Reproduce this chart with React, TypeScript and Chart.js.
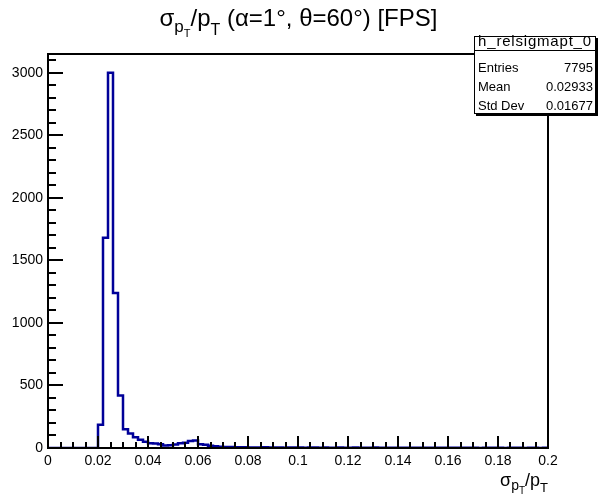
import React, { useEffect, useRef } from "react";
import { Chart, registerables } from "chart.js";
Chart.register(...registerables);

const xMin = 0;
const xMax = 0.2;
const binWidth = 0.002;
const xMinorStep = 0.005;
const yMax = 3150;
const yMinorStep = 100;

const xTickValues = [0, 0.02, 0.04, 0.06, 0.08, 0.1, 0.12, 0.14, 0.16, 0.18, 0.2];
const xTickLabels = ["0", "0.02", "0.04", "0.06", "0.08", "0.1", "0.12", "0.14", "0.16", "0.18", "0.2"];
const yTickValues = [0, 500, 1000, 1500, 2000, 2500, 3000];
const yTickLabels = ["0", "500", "1000", "1500", "2000", "2500", "3000"];

// Histogram bin contents (100 bins of width 0.002 from 0 to 0.2)
const counts = [
  0, 0, 0, 0, 0, 0, 0, 0, 0, 0,
  185, 1680, 3000, 1240, 420,
  150, 115, 85, 65, 50, 38, 35, 30, 20, 22,
  28, 38, 42, 55, 60, 30, 25, 18, 14, 10,
  8, 7, 6, 5, 5,
  4, 4, 3, 5, 3, 4, 3, 2, 4, 3,
  3, 2, 3, 4, 2, 3, 2, 2, 3, 2,
  2, 3, 1, 2, 2, 3, 1, 2, 2, 1,
  2, 1, 2, 2, 1, 1, 2, 1, 1, 2,
  1, 1, 2, 1, 1, 1, 0, 1, 1, 2,
  1, 0, 1, 1, 1, 0, 1, 1, 0, 1,
];

const histName = "h_relsigmapt_0";
const statsLabels = ["Entries", "Mean", "Std Dev"];
const statsValues = ["7795", "0.02933", "0.01677"];

const FONT = "'Liberation Sans', Arial, Helvetica, sans-serif";

type Seg = { t: string; s: number; dy: number };

function drawSegs(ctx: CanvasRenderingContext2D, segs: Seg[], x: number, y: number, align: "center" | "right") {
  let total = 0;
  const widths = segs.map((g) => {
    ctx.font = `${g.s}px ${FONT}`;
    const w = ctx.measureText(g.t).width;
    total += w;
    return w;
  });
  let cx = align === "center" ? x - total / 2 : x - total;
  ctx.textAlign = "left";
  ctx.textBaseline = "alphabetic";
  segs.forEach((g, i) => {
    ctx.font = `${g.s}px ${FONT}`;
    ctx.fillText(g.t, cx, y + g.dy);
    cx += widths[i];
  });
}

const titleSegs: Seg[] = [
  { t: "σ", s: 24, dy: 0 },
  { t: "p", s: 17, dy: 6 },
  { t: "T", s: 11, dy: 11 },
  { t: "/p", s: 24, dy: 0 },
  { t: "T", s: 16, dy: 9 },
  { t: " (α=1°, θ=60°) [FPS]", s: 24, dy: 0 },
];

const xTitleSegs: Seg[] = [
  { t: "σ", s: 18, dy: 0 },
  { t: "p", s: 14, dy: 4 },
  { t: "T", s: 10, dy: 8 },
  { t: "/p", s: 18, dy: 0 },
  { t: "T", s: 13, dy: 6 },
];

const decor = {
  id: "rootDecor",
  afterDatasetsDraw(chart: any) {
    const { ctx, chartArea: a, scales } = chart;
    const x = scales.x;
    const y = scales.y;
    ctx.save();
    ctx.strokeStyle = "#000";
    ctx.lineWidth = 2;
    ctx.beginPath();
    const nx = Math.round((xMax - xMin) / xMinorStep);
    for (let k = 0; k <= nx; k++) {
      const px = Math.round(x.getPixelForValue(xMin + k * xMinorStep));
      const len = k % 4 === 0 ? 12 : 6;
      ctx.moveTo(px, a.bottom);
      ctx.lineTo(px, a.bottom - len);
    }
    const ny = Math.floor(yMax / yMinorStep);
    for (let k = 0; k <= ny; k++) {
      const py = Math.round(y.getPixelForValue(k * yMinorStep));
      const len = k % 5 === 0 ? 15 : 8;
      ctx.moveTo(a.left, py);
      ctx.lineTo(a.left + len, py);
    }
    ctx.stroke();
    ctx.strokeRect(a.left, a.top, a.right - a.left, a.bottom - a.top);

    // stats box
    const bx = 474, by = 36, bw = 122, bh = 78;
    ctx.fillStyle = "#000";
    ctx.fillRect(bx + 2, by + 2, bw, bh);
    ctx.fillStyle = "#fff";
    ctx.fillRect(bx, by, bw, bh);
    ctx.lineWidth = 1;
    ctx.strokeRect(bx + 0.5, by + 0.5, bw - 1, bh - 1);
    ctx.beginPath();
    ctx.moveTo(bx, by + 14.5);
    ctx.lineTo(bx + bw, by + 14.5);
    ctx.stroke();
    ctx.fillStyle = "#000";
    ctx.font = `15px ${FONT}`;
    (ctx as any).letterSpacing = "0.8px";
    ctx.textAlign = "center";
    ctx.textBaseline = "alphabetic";
    ctx.fillText(histName, bx + bw / 2, by + 10);
    (ctx as any).letterSpacing = "0px";
    ctx.font = `13px ${FONT}`;
    statsLabels.forEach((l, i) => {
      const yy = by + 36 + i * 19;
      ctx.textAlign = "left";
      ctx.fillText(l, bx + 4, yy);
      ctx.textAlign = "right";
      ctx.fillText(statsValues[i], bx + bw - 3, yy);
    });

    // titles
    drawSegs(ctx, titleSegs, 298.5, 26, "center");
    drawSegs(ctx, xTitleSegs, a.right, 486, "right");
    ctx.restore();
  },
};

export default function App() {
  const ref = useRef<HTMLCanvasElement>(null);
  useEffect(() => {
    document.body.style.margin = "0";
    const points = counts.map((c, i) => ({ x: xMin + i * binWidth, y: c }));
    points.push({ x: xMax, y: counts[counts.length - 1] });
    const chart = new Chart(ref.current!, {
      type: "line",
      data: {
        datasets: [
          {
            data: points,
            stepped: "before",
            borderColor: "#000099",
            borderWidth: 2.5,
            pointRadius: 0,
            fill: false,
            tension: 0,
          },
        ],
      },
      options: {
        animation: false,
        responsive: false,
        devicePixelRatio: 1,
        layout: { padding: { top: 54, right: 50, bottom: 0, left: 0 } },
        plugins: { legend: { display: false }, tooltip: { enabled: false }, title: { display: false } },
        scales: {
          x: {
            type: "linear",
            min: xMin,
            max: xMax,
            grid: { display: false, drawTicks: false },
            border: { display: false },
            afterFit: (s: any) => { s.height = 47; },
            afterBuildTicks: (s: any) => { s.ticks = xTickValues.map((v) => ({ value: v })); },
            ticks: {
              autoSkip: false,
              maxRotation: 0,
              padding: 5,
              color: "#000",
              font: { family: FONT, size: 14 },
              callback: (_v: any, i: number) => xTickLabels[i],
            },
          },
          y: {
            min: 0,
            max: yMax,
            grid: { display: false, drawTicks: false },
            border: { display: false },
            afterFit: (s: any) => { s.width = 48; },
            afterBuildTicks: (s: any) => { s.ticks = yTickValues.map((v) => ({ value: v })); },
            ticks: {
              autoSkip: false,
              padding: 5,
              color: "#000",
              font: { family: FONT, size: 14 },
              callback: (_v: any, i: number) => yTickLabels[i],
            },
          },
        },
      },
      plugins: [decor],
    });
    return () => chart.destroy();
  }, []);
  return <canvas ref={ref} width={598} height={495} />;
}
